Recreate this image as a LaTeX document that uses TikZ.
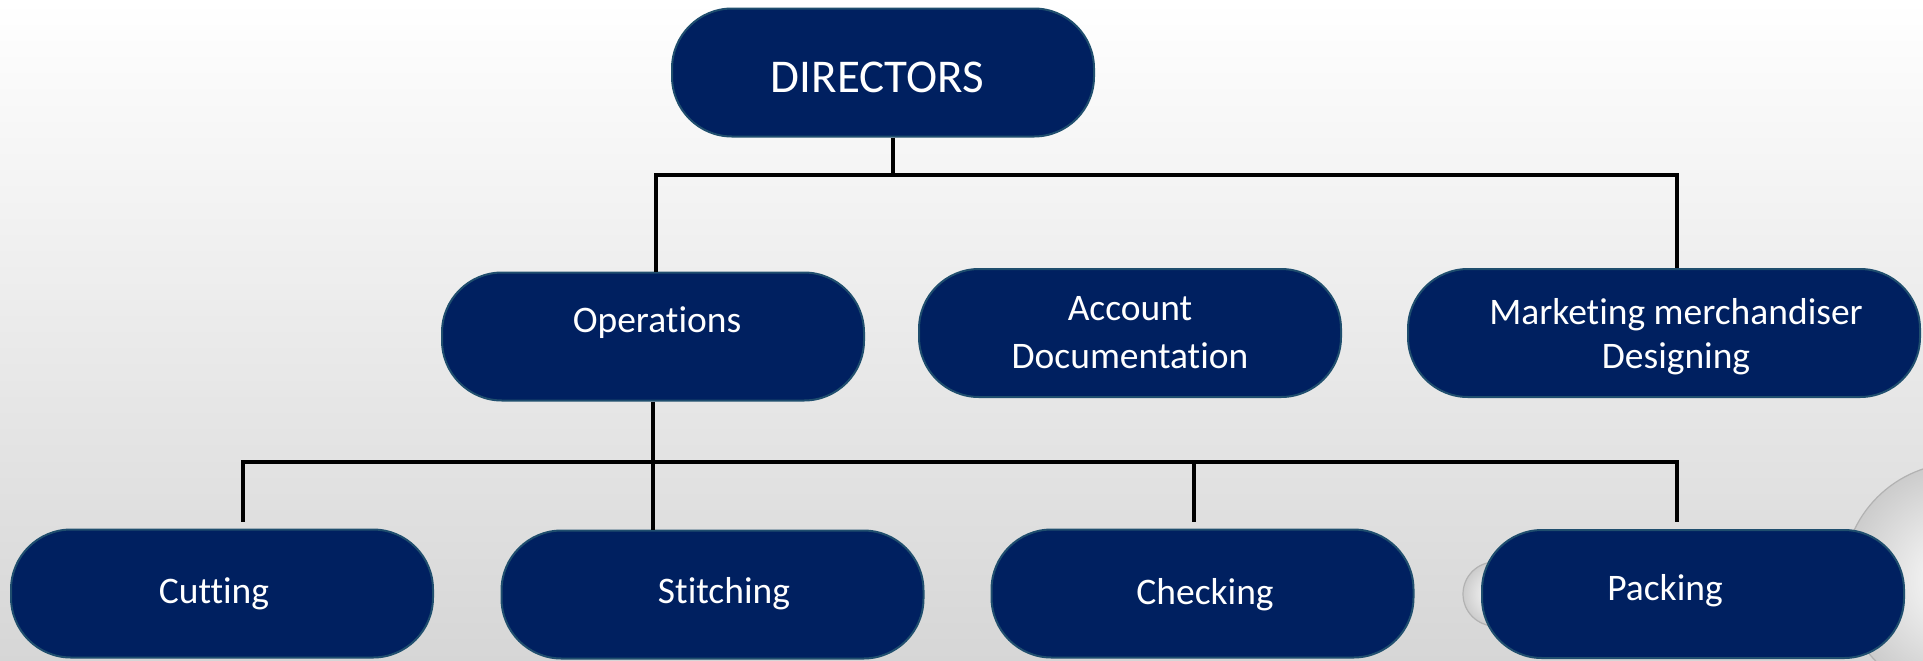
\documentclass[tikz,border=0pt]{standalone}
\usepackage{fontspec}
\setmainfont{Carlito}[Ligatures=NoCommon]
\definecolor{navy}{RGB}{0,32,96}
\definecolor{rim}{RGB}{31,78,110}
\begin{document}
\begin{tikzpicture}[x=0.5pt,y=-0.5pt,
  org/.style={draw=rim, line width=1pt, fill=navy, rounded corners=30pt, text=white,
    minimum width=211pt, minimum height=64pt, inner sep=0pt,
    font=\fontsize{18.75pt}{23pt}\selectfont},
  conn/.style={line width=1.7pt, black},
  glass/.style={inner color=white, outer color=black!20, draw=black!30, line width=0.6pt}
]
\useasboundingbox (0,0) rectangle (1923,660);
\shade[top color=white, bottom color=black!16] (0,0) rectangle (1923,660);
\begin{scope}
  \clip (0,0) rectangle (1923,660);
  \path[glass] (1960,580) circle[radius=58.5pt];
  \path[glass] (1495,594) circle[radius=16pt];
\end{scope}

\node[org, font=\fontsize{23.5pt}{28pt}\selectfont, text height=20.35pt, text depth=0pt] (dir) at (883,72.5) {DIRECTORS\hspace*{5.5pt}};
\node[org, text height=11.85pt, text depth=15.5pt] (ops) at (653,336.5) {\hspace*{4pt}Operations};
\node[org, align=center, font=\fontsize{18.75pt}{24pt}\selectfont] (acc) at (1130,333) {Account\\Documentation};
\node[org, minimum width=256pt, align=center, font=\fontsize{18.75pt}{22pt}\selectfont, text depth=0pt] (mkt) at (1664,333) {\hspace*{12pt}Marketing merchandiser\\\hspace*{12pt}Designing};
\node[org, text height=11.85pt, text depth=1.5pt] (cut) at (222,593.5) {Cutting\hspace*{8pt}};
\node[org, text height=11.85pt, text depth=2.5pt] (sti) at (712.5,594.5) {\hspace*{11.5pt}Stitching};
\node[org, text height=11.85pt, text depth=1pt] (chk) at (1202.5,593.5) {\hspace*{2.5pt}Checking};
\node[org, text height=11.85pt, text depth=5pt] (pak) at (1693,594) {Packing\hspace*{28pt}};

\coordinate (j1) at (893,175);
\coordinate (b1l) at (656,175);
\coordinate (b1r) at (1677,175);
\coordinate (b2l) at (243,462);
\coordinate (b2c) at (1194,462);
\coordinate (b2r) at (1677,462);
\draw[conn] (dir.south -| j1) -- (j1);
\draw[conn] (ops.north -| b1l) -- (b1l) -- (b1r) -- (mkt.north -| b1r);
\draw[conn] (ops.south) -- (sti.north -| ops.south);
\draw[conn, shorten <=3.5pt, shorten >=3.5pt] (cut.north -| b2l) -- (b2l) -- (b2r) -- (pak.north -| b2r);
\draw[conn, shorten >=3.5pt] (b2c) -- (chk.north -| b2c);
\end{tikzpicture}
\end{document}
